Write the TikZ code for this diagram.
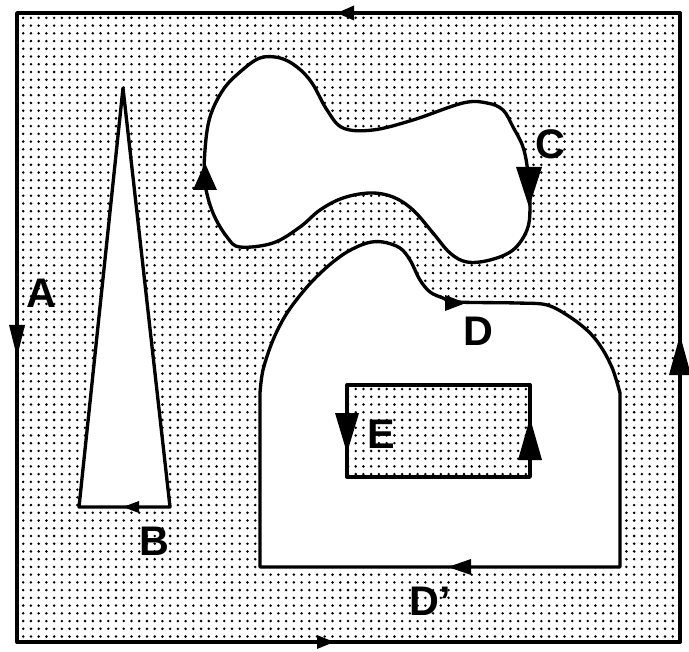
\documentclass[tikz,border=0pt]{standalone}
\usepackage{fontspec}
\setmainfont{Liberation Sans}
\usetikzlibrary{patterns.meta}
\begin{document}
\begin{tikzpicture}[x=0.75pt,y=-0.75pt,line join=round,
  outline/.style={line width=2.5pt},
  frame/.style={line width=2.9pt},
  lbl/.style={font=\fontsize{31}{31}\selectfont\bfseries,inner sep=0pt},
  stipple/.style={pattern={Dots[distance=5.8pt,radius=1.05pt]}},
  pics/ahead/.style 2 args={code={\fill (0,0) -- (-#1,-#2/2) -- (-#1,#2/2) -- cycle;}}]
\useasboundingbox (0,0) rectangle (689,652);
\fill[white] (0,0) rectangle (689,652);
% outer region
\fill[stipple] (17,13) rectangle (680,642);
% triangle B
\path[fill=white,draw=black,outline] (123,88) -- (79,507) -- (170,507) -- cycle;
% blob C
\path[fill=white,draw=black,outline] plot[smooth cycle,tension=0.6] coordinates {
 (205,150) (210,117) (223,90) (240,72) (260,58) (280,58) (297,67) (312,83)
 (327,110) (343,128) (373,130) (413,120) (463,103) (487,103) (503,110)
 (513,127) (523,147) (528,173) (530,207) (527,230) (513,250) (490,260)
 (467,262) (450,253) (433,233) (413,210) (393,197) (370,193) (343,198)
 (320,210) (300,227) (273,243) (240,247) (227,237) (213,213) (205,183)};
% region D
\path[fill=white,draw=black,outline] (260,567) -- plot[smooth,tension=0.55] coordinates {
 (260,393) (263,370) (273,340) (287,313) (307,287) (327,267) (347,252)
 (367,243) (383,242) (400,248) (410,260) (420,280) (430,292) (443,298)
 (457,302) (517,303) (547,305) (570,317) (590,333) (603,350) (613,370) (620,393)}
 -- (620,567) -- cycle;
% hole E
\path[stipple] (347,385) rectangle (530,477);
\draw[outline] (347,385) rectangle (530,477);
% frame
\draw[frame] (17,13) rectangle (680,642);
% arrowheads
\pic[rotate=180] at (337,13) {ahead={17}{15}};
\pic[rotate=0] at (334,642) {ahead={17}{14}};
\pic[rotate=-90] at (17,357) {ahead={32}{16}};
\pic[rotate=90] at (680,335) {ahead={40}{22}};
\pic[rotate=180] at (123,507) {ahead={16}{12}};
\pic[rotate=90] at (205,163) {ahead={27}{24}};
\pic[rotate=-90] at (529,207) {ahead={40}{26}};
\pic[rotate=0] at (466,303) {ahead={21}{16}};
\pic[rotate=180] at (448,567) {ahead={23}{16}};
\pic[rotate=-90] at (347,453) {ahead={40}{24}};
\pic[rotate=90] at (530,418) {ahead={42}{24}};
% labels
\node[lbl] (labA) at (41,293) {A};
\node[lbl] (labB) at (154,541) {B};
\node[lbl] (labC) at (550,144) {C};
\node[lbl] (labD) at (478,331) {D};
\node[lbl] (labE) at (381,434) {E};
\node[lbl] (labDp) at (430,601) {D'};
\end{tikzpicture}
\end{document}
